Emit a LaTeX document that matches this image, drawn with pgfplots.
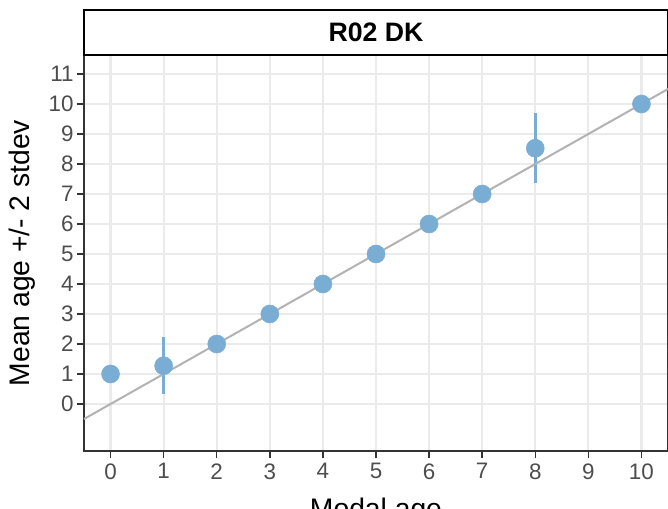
\documentclass[border=0pt]{standalone}
\usepackage{fontspec}
\setmainfont{Liberation Sans}
\usepackage{pgfplots}
\pgfplotsset{compat=1.18}
\definecolor{ptblue}{RGB}{122,173,212}
\definecolor{gridgray}{RGB}{235,235,235}
\definecolor{framegray}{RGB}{51,51,51}
\definecolor{labgray}{RGB}{77,77,77}
\definecolor{linegray}{RGB}{178,178,178}

\begin{document}
\begin{tikzpicture}
\begin{axis}[
  at={(0,0)}, anchor=south west,
  scale only axis, width=438pt, height=297pt,
  xmin=-0.5, xmax=10.5, ymin=-1.567, ymax=11.633,
  xtick={0,...,10}, ytick={0,...,11},
  grid=major, major grid style={gridgray, line width=1.6pt},
  axis line style={framegray, line width=1.1pt},
  tick align=outside, tick pos=left, major tick length=5.25pt,
  every tick/.style={framegray, line width=1.1pt},
  tick label style={font=\fontsize{16.8}{16.8}\selectfont, text=labgray},
  yticklabel style={xshift=1pt},
  xticklabel style={yshift=-0.5pt},
  /pgf/number format/assume math mode=true,
  xlabel={Modal age}, ylabel={Mean age +/- 2 stdev},
  label style={font=\fontsize{21.2}{21.2}\selectfont},
  xlabel style={at={(axis description cs:0.5,-0.1717)}, anchor=base},
  ylabel style={at={(axis description cs:-0.1062,0.5)}, anchor=center},
  clip=false,
]
% mean +/- 2 sd per modal age
\addplot[only marks, mark=*, mark size=6.75pt, color=ptblue,
  error bars/.cd, y dir=both, y explicit, error mark=none,
  error bar style={line width=2.25pt, ptblue}]
  table[x=x, y=y, y error=e] {
x y e
0 1 0
1 1.275 0.945
2 2 0
3 3 0
4 4 0
5 5 0
6 6 0
7 7 0
8 8.525 1.165
10 10 0
};
\addplot[linegray, line width=1.5pt] coordinates {(-0.5,-0.5) (10.5,10.5)};
\draw[black, line width=1.1pt, fill=white] (rel axis cs:0,1) rectangle ([yshift=33.75pt]rel axis cs:1,1);
\node[font=\bfseries\fontsize{20}{20}\selectfont] at ([yshift=16.9pt]rel axis cs:0.5,1) {R02 DK};
\end{axis}
\pgfresetboundingbox
\useasboundingbox (-63pt,-42.75pt) rectangle (438pt,338.25pt);
\end{tikzpicture}
\end{document}
